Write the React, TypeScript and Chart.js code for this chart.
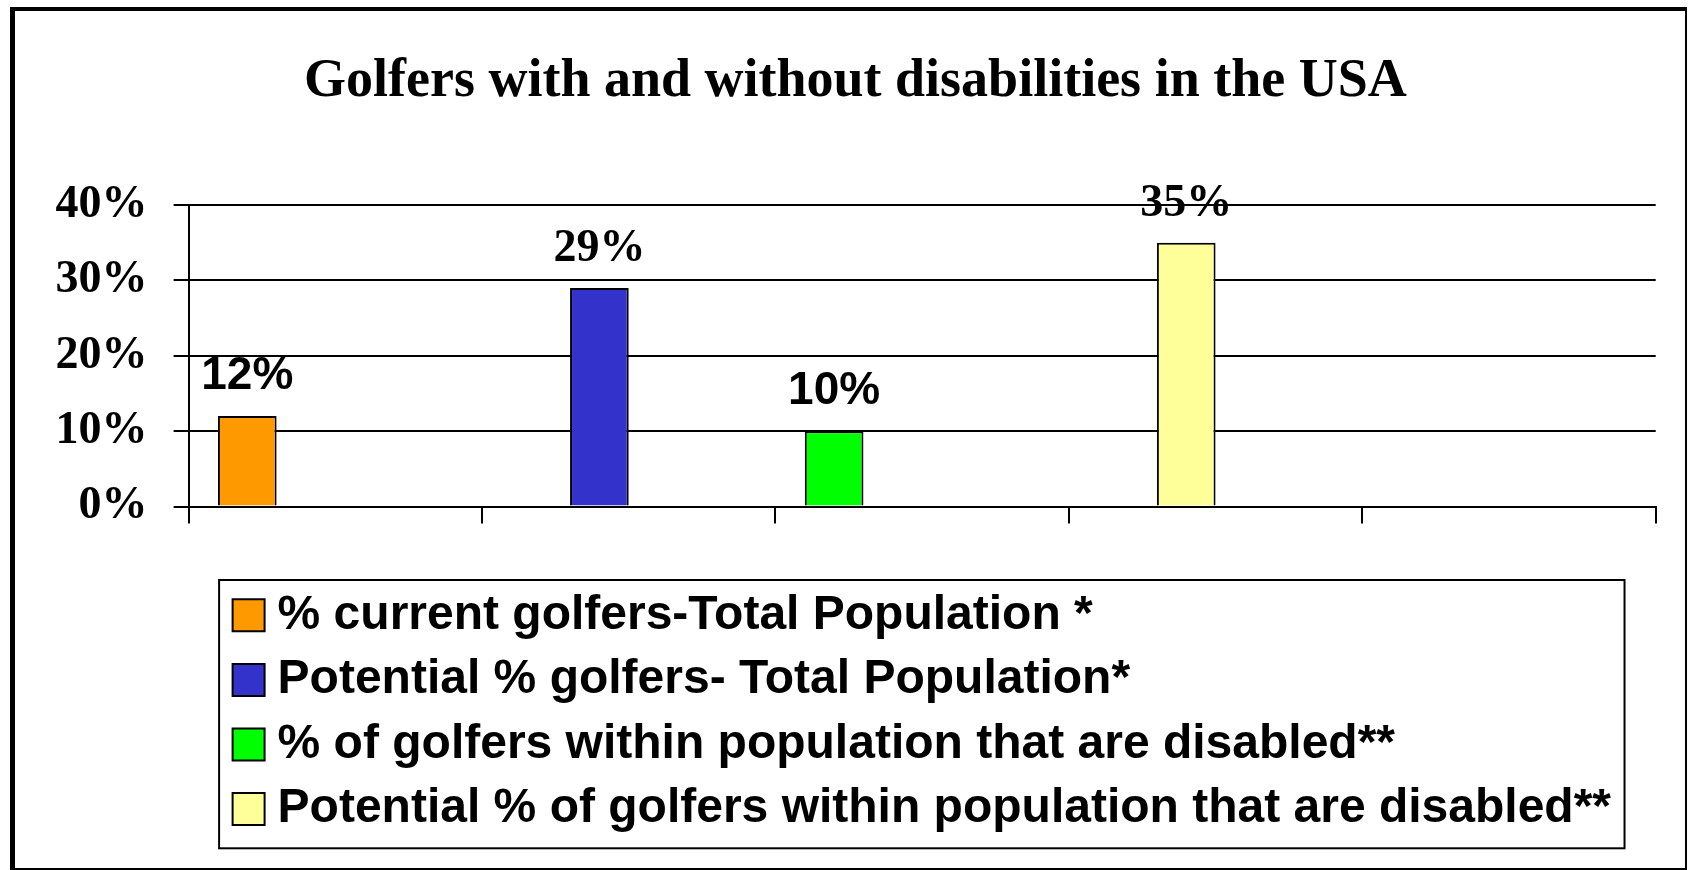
import { useEffect, useRef } from 'react';
import { Chart, registerables } from 'chart.js';

Chart.register(...registerables);

// ---- data ----
const titleText = 'Golfers with and without disabilities in the USA';
const categories = ['', '', '', '', ''];
const seriesLabels = [
  '% current golfers-Total Population *',
  'Potential % golfers- Total Population*',
  '% of golfers within population that are disabled**',
  'Potential % of golfers within population that are disabled**',
];
const currentTotal = [12, null, null, null, null];
const potentialTotal = [null, 29, null, null, null];
const currentDisabled = [null, null, 10, null, null];
const potentialDisabled = [null, null, null, 35, null];
const emptySeries = [null, null, null, null, null];
const yTicks = [0, 10, 20, 30, 40];

// ---- styles ----
const seriesColors = ['#FF9900', '#3333CC', '#00FF00', '#FFFF99'];
const seriesStacks = ['a', 'b', 'a', 'b'];
const SERIF = "'Liberation Serif', 'Times New Roman', serif";
const SANS = "'Liberation Sans', Arial, sans-serif";
const labelFonts = [
  `bold 46px ${SANS}`,
  `bold 46px ${SERIF}`,
  `bold 46px ${SANS}`,
  `bold 46px ${SERIF}`,
];
const LABEL_GAP = 27;
const LEGEND_LEFT = 212;

const legendShift = {
  id: 'legendShift',
  afterLayout(chart: any) {
    const lg = chart.legend;
    if (lg) lg.left = LEGEND_LEFT;
  },
};

const legendFrame = {
  id: 'legendFrame',
  afterDraw(chart: any) {
    const lg = chart.legend;
    if (!lg || !lg.legendItems) return;
    const ctx = chart.ctx;
    const lab = lg.options.labels;
    const fs = lab.font.size;
    ctx.save();
    ctx.font = `bold ${fs}px ${SANS}`;
    let maxW = 0;
    lg.legendItems.forEach((it: any) => {
      maxW = Math.max(maxW, ctx.measureText(it.text).width);
    });
    const itemX = lg.left + lab.padding;
    const textX = itemX + lab.boxWidth + fs / 2;
    const swatchLeft = itemX + lab.boxWidth / 2 - lab.boxHeight / 2;
    const left = swatchLeft - 13.5;
    const right = textX + maxW + 13.5;
    const top = lg.top + 5.3;
    const bottom = lg.top + lg.legendItems.length * (fs + lab.padding) + 10 + 5.2;
    ctx.strokeStyle = '#000';
    ctx.lineWidth = 2;
    ctx.strokeRect(left, top, right - left, bottom - top);
    ctx.restore();
  },
};

const valueLabels = {
  id: 'valueLabels',
  afterDatasetsDraw(chart: any) {
    const ctx = chart.ctx;
    chart.data.datasets.forEach((ds: any, i: number) => {
      const font = labelFonts[i];
      if (!font) return;
      const meta = chart.getDatasetMeta(i);
      meta.data.forEach((bar: any, j: number) => {
        const v = ds.data[j];
        if (v === null || v === undefined) return;
        ctx.save();
        ctx.font = font;
        ctx.fillStyle = '#000';
        ctx.textAlign = 'center';
        ctx.textBaseline = 'alphabetic';
        ctx.fillText(`${v}%`, bar.x, bar.y - LABEL_GAP);
        ctx.restore();
      });
    });
  },
};

export default function App() {
  const ref = useRef<HTMLCanvasElement>(null);

  useEffect(() => {
    const seriesData = [currentTotal, potentialTotal, currentDisabled, potentialDisabled];
    const datasets: any[] = seriesData.map((d, i) => ({
      label: seriesLabels[i],
      data: d,
      backgroundColor: seriesColors[i],
      borderColor: '#000',
      borderWidth: 2,
      stack: seriesStacks[i],
    }));
    // empty placeholders keep the two remaining bar slots of each category free
    datasets.push({ label: '', data: emptySeries, stack: 'c', backgroundColor: 'transparent', borderWidth: 0 });
    datasets.push({ label: '', data: emptySeries, stack: 'd', backgroundColor: 'transparent', borderWidth: 0 });

    const chart = new Chart(ref.current as HTMLCanvasElement, {
      type: 'bar',
      data: { labels: categories, datasets },
      options: {
        animation: false,
        responsive: true,
        maintainAspectRatio: false,
        devicePixelRatio: 1,
        layout: { padding: { left: 40, right: 29.3, top: 0, bottom: 24.9 } },
        datasets: { bar: { categoryPercentage: 0.8, barPercentage: 1.0 } },
        plugins: {
          title: {
            display: true,
            text: titleText,
            color: '#000',
            font: { family: SERIF, size: 54, weight: 'bold', lineHeight: 1.2 },
            padding: { top: 39.1, bottom: 90.1 },
          },
          legend: {
            position: 'bottom',
            align: 'start',
            labels: {
              filter: (item: any) => item.text !== '',
              color: '#000',
              font: { family: SANS, size: 48, weight: 'bold' },
              usePointStyle: true,
              pointStyle: 'rect',
              boxWidth: 10,
              boxHeight: 32,
              padding: 16.6,
            },
          },
          tooltip: { enabled: false },
        },
        scales: {
          x: {
            type: 'category',
            offset: true,
            grid: {
              display: true,
              drawOnChartArea: false,
              drawTicks: true,
              tickLength: 17,
              color: '#000',
              lineWidth: 2,
              offset: true,
            },
            border: { display: true, color: '#000', width: 2 },
            ticks: { display: false },
            afterFit: (s: any) => {
              s.height = 68.2;
            },
          },
          y: {
            min: yTicks[0],
            max: yTicks[yTicks.length - 1],
            ticks: {
              stepSize: yTicks[1] - yTicks[0],
              callback: (v: any) => `${v}%`,
              color: '#000',
              font: { family: SERIF, size: 46, weight: 'bold' },
              padding: 26,
            },
            grid: { color: '#000', lineWidth: 2, tickLength: 15 },
            border: { display: true, color: '#000', width: 2 },
            afterFit: (s: any) => {
              s.width = 133.6;
            },
          },
        },
      } as any,
      plugins: [legendShift, legendFrame, valueLabels],
    });
    return () => chart.destroy();
  }, []);

  return (
    <div
      style={{
        position: 'absolute',
        left: 10,
        top: 7,
        width: 1677,
        height: 863,
        boxSizing: 'border-box',
        borderLeft: '5px solid #000',
        borderTop: '4px solid #000',
        borderRight: '2px solid #000',
        borderBottom: '2px solid #000',
        background: '#fff',
      }}
    >
      <div style={{ position: 'relative', width: 1670, height: 857 }}>
        <canvas ref={ref} />
      </div>
    </div>
  );
}
